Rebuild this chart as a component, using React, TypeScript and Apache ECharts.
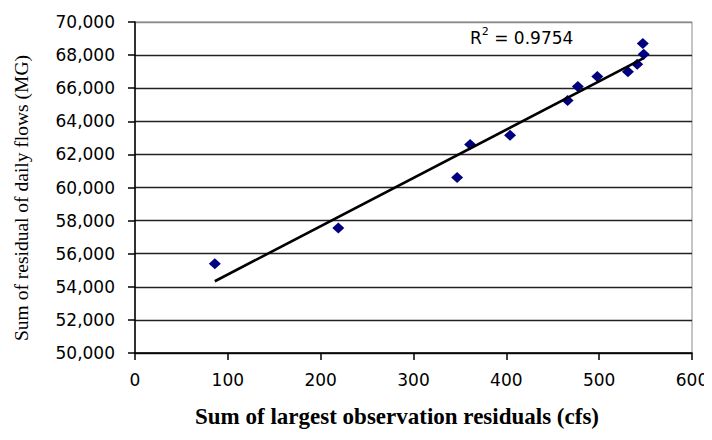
import { useEffect, useRef } from "react";
import * as echarts from "echarts";

// Observations: sum of largest observation residuals (cfs) vs. sum of residual of daily flows (MG)
const residualSums = [86, 219, 347, 361, 404, 466, 477, 498, 531, 541, 548, 547];
const flowSums = [55400, 57550, 60600, 62600, 63150, 65250, 66100, 66700, 67000, 67450, 68050, 68700];

// Axis ranges
const xRange = [0, 600];
const xStep = 100;
const yRange = [50000, 70000];
const yStep = 2000;

const rSquaredText = "0.9754";
const xTitle = "Sum of largest observation residuals (cfs)";
const yTitle = "Sum of residual of daily flows (MG)";

// Least-squares line through the observations
function linearFit(xs: number[], ys: number[]) {
  const n = xs.length;
  const mx = xs.reduce((a, b) => a + b, 0) / n;
  const my = ys.reduce((a, b) => a + b, 0) / n;
  let sxy = 0;
  let sxx = 0;
  for (let i = 0; i < n; i++) {
    sxy += (xs[i] - mx) * (ys[i] - my);
    sxx += (xs[i] - mx) * (xs[i] - mx);
  }
  const slope = sxy / sxx;
  return { slope, intercept: my - slope * mx };
}

const gridColors = [
  "#222", "#222", "#222", "#222", "#222", "#222",
  "#222", "#222", "#222", "#222", "#8a8a8a",
];

export default function App() {
  const ref = useRef<HTMLDivElement>(null);

  useEffect(() => {
    if (!ref.current) return;
    const chart = echarts.init(ref.current, null, { renderer: "svg" });

    const points = residualSums.map((x, i) => [x, flowSums[i]]);
    const { slope, intercept } = linearFit(residualSums, flowSums);
    const xLo = Math.min(...residualSums);
    const xHi = Math.max(...residualSums);
    const trend = [
      [xLo, intercept + slope * xLo],
      [xHi, intercept + slope * xHi],
    ];

    const tickFont = {
      fontFamily: "DejaVu Sans",
      fontSize: 17,
      color: "#000",
    };

    chart.setOption({
      animation: false,
      backgroundColor: "#fff",
      grid: {
        left: 135,
        right: 20,
        top: 22,
        bottom: 87,
        show: true,
        borderColor: "#8a8a8a",
        borderWidth: 1,
      },
      xAxis: {
        type: "value",
        min: xRange[0],
        max: xRange[1],
        interval: xStep,
        axisLine: { show: true, onZero: false, lineStyle: { color: "#000", width: 1.5 } },
        axisTick: { show: true, length: 7, lineStyle: { color: "#000", width: 1.5 } },
        axisLabel: { ...tickFont, margin: 18 },
        splitLine: { show: false },
      },
      yAxis: {
        type: "value",
        min: yRange[0],
        max: yRange[1],
        interval: yStep,
        axisLine: { show: true, onZero: false, lineStyle: { color: "#000", width: 1.5 } },
        axisTick: { show: true, length: 7, lineStyle: { color: "#000", width: 1.5 } },
        axisLabel: {
          ...tickFont,
          margin: 20,
          formatter: (v: number) => v.toLocaleString("en-US"),
        },
        splitLine: { show: true, lineStyle: { color: gridColors, width: 1.3 } },
      },
      series: [
        {
          type: "scatter",
          data: points,
          symbol: "diamond",
          symbolSize: [12, 11],
          itemStyle: { color: "#000080", opacity: 1 },
          z: 2,
        },
        {
          type: "line",
          data: trend,
          symbol: "none",
          lineStyle: { color: "#000", width: 2.6 },
          z: 3,
        },
      ],
      graphic: [
        {
          type: "text",
          left: 470,
          top: 26,
          style: {
            text: `{r|R}{s|2}{r| = ${rSquaredText}}`,
            rich: {
              r: { fontFamily: "DejaVu Sans", fontSize: 17, lineHeight: 20, verticalAlign: "bottom", fill: "#000" },
              s: { fontFamily: "DejaVu Sans", fontSize: 11, lineHeight: 14, verticalAlign: "top", fill: "#000" },
            },
          },
        },
        {
          type: "text",
          x: 397,
          y: 416,
          style: {
            text: xTitle,
            fontFamily: "Liberation Serif",
            fontWeight: "bold",
            fontSize: 23,
            fill: "#000",
            align: "center",
            verticalAlign: "middle",
          },
        },
        {
          type: "text",
          x: 21,
          y: 198,
          rotation: Math.PI / 2,
          style: {
            text: yTitle,
            fontFamily: "Liberation Serif",
            fontSize: 19.5,
            fill: "#000",
            align: "center",
            verticalAlign: "middle",
          },
        },
      ],
    });

    return () => chart.dispose();
  }, []);

  return <div ref={ref} style={{ width: 712, height: 440, margin: -8 }} />;
}
